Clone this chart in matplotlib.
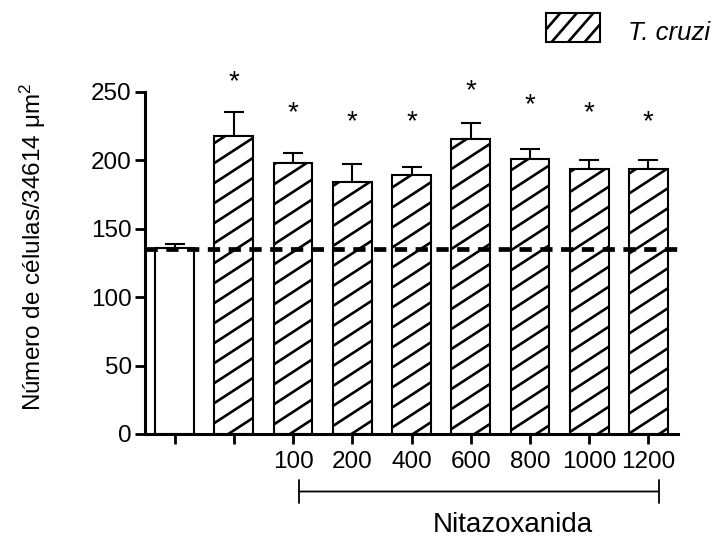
import matplotlib
matplotlib.use("Agg")
import matplotlib.pyplot as plt
from matplotlib.collections import LineCollection
from matplotlib.transforms import IdentityTransform
from matplotlib.patches import Rectangle

plt.rcParams['font.family'] = ['Liberation Sans', 'DejaVu Sans']
plt.rcParams['mathtext.fontset'] = 'custom'
plt.rcParams['mathtext.rm'] = 'Liberation Sans'
plt.rcParams['mathtext.it'] = 'Liberation Sans:italic'

categories = ["", "", "100", "200", "400", "600", "800", "1000", "1200"]
means = [135.5, 218, 198, 184, 189, 215.5, 201, 193.5, 193.5]
errors = [3.5, 17, 7.5, 13, 6, 11.5, 7, 6.5, 6.5]
star_y = [None, 257, 234, 228, 228, 250.5, 240, 234, 228]
control_line = 135
yticks = [0, 50, 100, 150, 200, 250]

W, H = 716, 537
fig = plt.figure(figsize=(W / 100, H / 100), dpi=100)
ax = fig.add_axes([145 / W, 1 - 434 / H, 533 / W, 342.3 / H])


def hatch_segments(slope=0.65, spacing=20.0):
    segs = []
    c = -slope * W - spacing
    while c < H + spacing:
        segs.append([(0, c), (W, c + slope * W)])
        c += spacing
    return segs


x = list(range(len(means)))
for i in x:
    bg = ax.bar(i, means[i], width=0.655, color='white', edgecolor='none', zorder=2)[0]
    if i > 0:
        lc = LineCollection(hatch_segments(), colors='black', linewidths=1.9,
                            transform=IdentityTransform(), zorder=2.5)
        ax.add_collection(lc, autolim=False)
        lc.set_clip_path(bg)
    ax.bar(i, means[i], width=0.655, fill=False, edgecolor='black', linewidth=1.5, zorder=3)
    ax.errorbar(i, means[i], yerr=[[0], [errors[i]]], fmt='none', ecolor='black',
                elinewidth=1.5, capsize=7.5, capthick=1.5, zorder=1)
    if star_y[i] is not None:
        ax.text(i, star_y[i], '*', ha='center', va='center', fontsize=20)

ax.axhline(control_line, color='black', linewidth=3.4, dashes=(2.6, 1.8), zorder=4,
           xmin=0, xmax=1.0, clip_on=False)

ax.set_xlim(-0.5, 8.5)
ax.set_ylim(0, 250)
ax.set_yticks(yticks)
ax.set_xticks(x)
ax.set_xticklabels(categories, fontsize=17.5)
ax.tick_params(axis='y', labelsize=17.5, width=2, length=7, pad=2.5)
ax.tick_params(axis='x', width=2, length=7.5, pad=4.5)
for s in ['top', 'right']:
    ax.spines[s].set_visible(False)
for s in ['left', 'bottom']:
    ax.spines[s].set_linewidth(2.2)

fig.text(33 / W, 1 - 247 / H, 'Número de células/34614 μm$^2$', rotation=90,
         ha='center', va='center', fontsize=17.5)

# bracket for Nitazoxanida
ax.annotate('', xy=(2.05, -0.168), xytext=(8.22, -0.168),
            xycoords=('data', 'axes fraction'),
            arrowprops=dict(arrowstyle='|-|', linewidth=1.3, mutation_scale=8))
ax.text(5.71, -0.265, 'Nitazoxanida', transform=ax.get_xaxis_transform(),
        ha='center', va='center', fontsize=20)

# legend
leg_bg = Rectangle((545.5 / W, 1 - 41.7 / H), 54.5 / W, 28.4 / H, transform=fig.transFigure,
                   facecolor='white', edgecolor='none')
fig.patches.append(leg_bg)
leg_lc = LineCollection(hatch_segments(slope=1.15, spacing=19.0), colors='black',
                        linewidths=1.9, transform=IdentityTransform())
fig.add_artist(leg_lc)
leg_lc.set_clip_path(leg_bg)
leg_edge = Rectangle((545.5 / W, 1 - 41.7 / H), 54.5 / W, 28.4 / H, transform=fig.transFigure,
                     fill=False, edgecolor='black', linewidth=1.5, zorder=5)
fig.add_artist(leg_edge)
fig.text(628 / W, 1 - 40 / H, 'T. cruzi', fontsize=18.5, style='italic',
         va='baseline', ha='left')

fig.savefig('out.png', dpi=100)
